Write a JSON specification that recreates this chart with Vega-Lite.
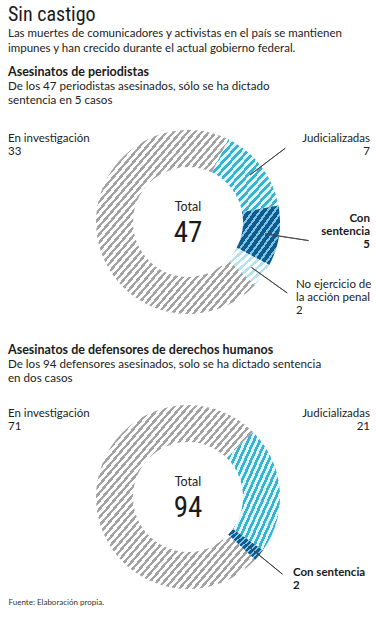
{
"$schema": "https://vega.github.io/schema/vega-lite/v6.json",
"background": "white",
"padding": {"left": 8, "top": 4, "right": 0, "bottom": 0},
"title": {
  "text": "Sin castigo",
  "subtitle": ["Las muertes de comunicadores y activistas en el país se mantienen", "impunes y han crecido durante el actual gobierno federal."],
  "anchor": "start", "frame": "group",
  "font": "Roboto Condensed, Noto Sans Condensed, DejaVu Sans Condensed, Liberation Sans Narrow, Roboto", "fontSize": 20, "fontWeight": "normal", "color": "#1a1a1a",
  "subtitleFont": "Lato", "subtitleFontSize": 11.5, "subtitleColor": "#222", "subtitleLineHeight": 15, "subtitlePadding": 3,
  "offset": 12
},
"spacing": 16,
"vconcat": [
{
  "width": 360, "height": 212,
  "title": {"text": "Asesinatos de periodistas", "subtitle": ["De los 47 periodistas asesinados, sólo se ha dictado", "sentencia en 5 casos"], "anchor": "start", "font": "Lato", "fontSize": 12.5, "fontWeight": "bold", "color": "#1a1a1a", "subtitleFont": "Lato", "subtitleFontSize": 11.6, "subtitleColor": "#222", "subtitleLineHeight": 14.5, "subtitlePadding": 2, "offset": 9},
  "data": {"values": [
    {"cat": "Judicializadas", "n": 7, "order": 1, "label": "Judicializadas\n7"},
    {"cat": "Con sentencia", "n": 5, "order": 2, "label": "Con\nsentencia\n5"},
    {"cat": "No ejercicio de la acción penal", "n": 2, "order": 3, "label": "No ejercicio de\nla acción penal\n2"},
    {"cat": "En investigación", "n": 33, "order": 4, "label": "En investigación\n33"}
  ]},
  "layer": [
    {"mark": {"type": "arc", "innerRadius": 55, "outerRadius": 92, "style": "hgray"},
     "encoding": {"theta": {"field": "n", "type": "quantitative", "stack": true, "scale": {"domain": [0, 47], "range": [0.45379, 6.73698]}}, "order": {"field": "order", "type": "quantitative"},
       "opacity": {"condition": {"test": "datum.cat === 'En investigación'", "value": 1}, "value": 0}}},
    {"mark": {"type": "arc", "innerRadius": 55, "outerRadius": 92, "style": "hcyan"},
     "encoding": {"theta": {"field": "n", "type": "quantitative", "stack": true, "scale": {"domain": [0, 47], "range": [0.45379, 6.73698]}}, "order": {"field": "order", "type": "quantitative"},
       "opacity": {"condition": {"test": "datum.cat === 'Judicializadas'", "value": 1}, "value": 0}}},
    {"mark": {"type": "arc", "innerRadius": 55, "outerRadius": 92, "style": "hdark"},
     "encoding": {"theta": {"field": "n", "type": "quantitative", "stack": true, "scale": {"domain": [0, 47], "range": [0.45379, 6.73698]}}, "order": {"field": "order", "type": "quantitative"},
       "opacity": {"condition": {"test": "datum.cat === 'Con sentencia'", "value": 1}, "value": 0}}},
    {"mark": {"type": "arc", "innerRadius": 55, "outerRadius": 92, "style": "hlight"},
     "encoding": {"theta": {"field": "n", "type": "quantitative", "stack": true, "scale": {"domain": [0, 47], "range": [0.45379, 6.73698]}}, "order": {"field": "order", "type": "quantitative"},
       "opacity": {"condition": {"test": "datum.cat === 'No ejercicio de la acción penal'", "value": 1}, "value": 0}}},
    {"mark": {"type": "arc", "innerRadius": 78, "outerRadius": 122, "padAngle": 3, "filled": false, "color": "#444", "strokeWidth": 0.9},
     "encoding": {"theta": {"field": "n", "type": "quantitative", "stack": true, "scale": {"domain": [0, 47], "range": [0.45379, 6.73698]}}, "order": {"field": "order", "type": "quantitative"},
       "opacity": {"condition": {"test": "datum.cat !== 'En investigación'", "value": 1}, "value": 0}}},
    {"transform": [{"aggregate": [{"op": "sum", "field": "n", "as": "total"}]}],
     "mark": {"type": "text", "text": "Total", "font": "Lato", "fontSize": 12.5, "color": "#222", "baseline": "alphabetic", "dy": -11},
     "encoding": {}},
    {"transform": [{"aggregate": [{"op": "sum", "field": "n", "as": "total"}]}],
     "mark": {"type": "text", "font": "Roboto Condensed, Noto Sans Condensed, DejaVu Sans Condensed, Liberation Sans Narrow, Roboto", "fontSize": 29, "color": "#1a1a1a", "baseline": "alphabetic", "dy": 20},
     "encoding": {"text": {"field": "total", "type": "quantitative"}}},
    {"mark": {"type": "text", "font": "Lato", "fontSize": 11.5, "color": "#222", "lineBreak": "\n", "lineHeight": 13, "align": "left", "baseline": "middle"},
     "encoding": {"theta": {"field": "n", "type": "quantitative", "stack": true, "bandPosition": 0.639, "scale": {"domain": [0, 47], "range": [0.45379, 6.73698]}}, "order": {"field": "order", "type": "quantitative"},
       "radius": {"value": {"expr": "datum.cat === 'En investigación' ? 198.2 : 0"}},
       "text": {"condition": {"test": "datum.cat === 'En investigación'", "field": "label", "type": "nominal"}, "value": ""}}},
    {"mark": {"type": "text", "font": "Lato", "fontSize": 11.5, "color": "#222", "lineBreak": "\n", "lineHeight": 13, "align": "right", "baseline": "middle"},
     "encoding": {"theta": {"field": "n", "type": "quantitative", "stack": true, "bandPosition": 0.737, "scale": {"domain": [0, 47], "range": [0.45379, 6.73698]}}, "order": {"field": "order", "type": "quantitative"},
       "radius": {"value": {"expr": "datum.cat === 'Judicializadas' ? 200 : 0"}},
       "text": {"condition": {"test": "datum.cat === 'Judicializadas'", "field": "label", "type": "nominal"}, "value": ""}}},
    {"mark": {"type": "text", "font": "Lato", "fontSize": 11.5, "fontWeight": "bold", "color": "#1a1a1a", "lineBreak": "\n", "lineHeight": 13, "align": "right", "baseline": "middle"},
     "encoding": {"theta": {"field": "n", "type": "quantitative", "stack": true, "bandPosition": 0.247, "scale": {"domain": [0, 47], "range": [0.45379, 6.73698]}}, "order": {"field": "order", "type": "quantitative"},
       "radius": {"value": {"expr": "datum.cat === 'Con sentencia' ? 182 : 0"}},
       "text": {"condition": {"test": "datum.cat === 'Con sentencia'", "field": "label", "type": "nominal"}, "value": ""}}},
    {"mark": {"type": "text", "font": "Lato", "fontSize": 11.5, "color": "#222", "lineBreak": "\n", "lineHeight": 13, "align": "left", "baseline": "middle"},
     "encoding": {"theta": {"field": "n", "type": "quantitative", "stack": true, "bandPosition": 0.154, "scale": {"domain": [0, 47], "range": [0.45379, 6.73698]}}, "order": {"field": "order", "type": "quantitative"},
       "radius": {"value": {"expr": "datum.cat === 'No ejercicio de la acción penal' ? 125 : 0"}},
       "text": {"condition": {"test": "datum.cat === 'No ejercicio de la acción penal'", "field": "label", "type": "nominal"}, "value": ""}}}
  ]
},
{
  "spacing": 3,
  "vconcat": [
  {
    "width": 360, "height": 196,
    "title": {"text": "Asesinatos de defensores de derechos humanos", "subtitle": ["De los 94 defensores asesinados, solo se ha dictado sentencia", "en dos casos"], "anchor": "start", "font": "Lato", "fontSize": 12.5, "fontWeight": "bold", "color": "#1a1a1a", "subtitleFont": "Lato", "subtitleFontSize": 11.6, "subtitleColor": "#222", "subtitleLineHeight": 14.5, "subtitlePadding": 2, "offset": 14},
    "data": {"values": [
      {"cat": "Judicializadas", "n": 21, "order": 1, "label": "Judicializadas\n21"},
      {"cat": "Con sentencia", "n": 2, "order": 2, "label": "Con sentencia\n2"},
      {"cat": "En investigación", "n": 71, "order": 3, "label": "En investigación\n71"}
    ]},
    "layer": [
      {"mark": {"type": "arc", "innerRadius": 55, "outerRadius": 92, "style": "hgray"},
       "encoding": {"theta": {"field": "n", "type": "quantitative", "stack": true, "scale": {"domain": [0, 94], "range": [0.785398, 7.068583]}}, "order": {"field": "order", "type": "quantitative"},
         "opacity": {"condition": {"test": "datum.cat === 'En investigación'", "value": 1}, "value": 0}}},
      {"mark": {"type": "arc", "innerRadius": 55, "outerRadius": 92, "style": "hcyan"},
       "encoding": {"theta": {"field": "n", "type": "quantitative", "stack": true, "scale": {"domain": [0, 94], "range": [0.785398, 7.068583]}}, "order": {"field": "order", "type": "quantitative"},
         "opacity": {"condition": {"test": "datum.cat === 'Judicializadas'", "value": 1}, "value": 0}}},
      {"mark": {"type": "arc", "innerRadius": 55, "outerRadius": 92, "style": "hdark"},
       "encoding": {"theta": {"field": "n", "type": "quantitative", "stack": true, "scale": {"domain": [0, 94], "range": [0.785398, 7.068583]}}, "order": {"field": "order", "type": "quantitative"},
         "opacity": {"condition": {"test": "datum.cat === 'Con sentencia'", "value": 1}, "value": 0}}},
      {"mark": {"type": "arc", "innerRadius": 78, "outerRadius": 122, "padAngle": 3, "filled": false, "color": "#444", "strokeWidth": 0.9},
       "encoding": {"theta": {"field": "n", "type": "quantitative", "stack": true, "scale": {"domain": [0, 94], "range": [0.785398, 7.068583]}}, "order": {"field": "order", "type": "quantitative"},
         "opacity": {"condition": {"test": "datum.cat === 'Con sentencia'", "value": 1}, "value": 0}}},
      {"transform": [{"aggregate": [{"op": "sum", "field": "n", "as": "total"}]}],
       "mark": {"type": "text", "text": "Total", "font": "Lato", "fontSize": 12.5, "color": "#222", "baseline": "alphabetic", "dy": -11},
       "encoding": {}},
      {"transform": [{"aggregate": [{"op": "sum", "field": "n", "as": "total"}]}],
       "mark": {"type": "text", "font": "Roboto Condensed, Noto Sans Condensed, DejaVu Sans Condensed, Liberation Sans Narrow, Roboto", "fontSize": 29, "color": "#1a1a1a", "baseline": "alphabetic", "dy": 20},
       "encoding": {"text": {"field": "total", "type": "quantitative"}}},
      {"mark": {"type": "text", "font": "Lato", "fontSize": 11.5, "color": "#222", "lineBreak": "\n", "lineHeight": 13, "align": "left", "baseline": "middle"},
       "encoding": {"theta": {"field": "n", "type": "quantitative", "stack": true, "bandPosition": 0.5946, "scale": {"domain": [0, 94], "range": [0.785398, 7.068583]}}, "order": {"field": "order", "type": "quantitative"},
         "radius": {"value": {"expr": "datum.cat === 'En investigación' ? 198.2 : 0"}},
         "text": {"condition": {"test": "datum.cat === 'En investigación'", "field": "label", "type": "nominal"}, "value": ""}}},
      {"mark": {"type": "text", "font": "Lato", "fontSize": 11.5, "color": "#222", "lineBreak": "\n", "lineHeight": 13, "align": "right", "baseline": "middle"},
       "encoding": {"theta": {"field": "n", "type": "quantitative", "stack": true, "bandPosition": 0.2548, "scale": {"domain": [0, 94], "range": [0.785398, 7.068583]}}, "order": {"field": "order", "type": "quantitative"},
         "radius": {"value": {"expr": "datum.cat === 'Judicializadas' ? 200 : 0"}},
         "text": {"condition": {"test": "datum.cat === 'Judicializadas'", "field": "label", "type": "nominal"}, "value": ""}}},
      {"mark": {"type": "text", "font": "Lato", "fontSize": 11.5, "fontWeight": "bold", "color": "#1a1a1a", "lineBreak": "\n", "lineHeight": 13, "align": "left", "baseline": "middle"},
       "encoding": {"theta": {"field": "n", "type": "quantitative", "stack": true, "bandPosition": 0.06, "scale": {"domain": [0, 94], "range": [0.785398, 7.068583]}}, "order": {"field": "order", "type": "quantitative"},
         "radius": {"value": {"expr": "datum.cat === 'Con sentencia' ? 129.6 : 0"}},
         "text": {"condition": {"test": "datum.cat === 'Con sentencia'", "field": "label", "type": "nominal"}, "value": ""}}}
    ]
  },
  {
    "width": 1, "height": 1,
    "data": {"values": [{"t": "Fuente: Elaboración propia."}]},
    "mark": {"type": "text", "align": "left", "baseline": "top", "font": "Lato", "fontSize": 8, "color": "#333"},
    "encoding": {"text": {"field": "t", "type": "nominal"}}
  }
  ]
}
],
"config": {
  "view": {"stroke": null},
  "font": "Lato",
  "style": {
    "hgray": {"color": {"gradient": "linear", "x1": 0, "y1": 0, "x2": 1, "y2": 1, "stops": [
{"offset":0,"color":"#a3a3a3"},{"offset":0.01,"color":"#a3a3a3"},{"offset":0.01,"color":"#fff"},{"offset":0.0222,"color":"#fff"},
{"offset":0.0222,"color":"#a3a3a3"},{"offset":0.0322,"color":"#a3a3a3"},{"offset":0.0322,"color":"#fff"},{"offset":0.0444,"color":"#fff"},
{"offset":0.0444,"color":"#a3a3a3"},{"offset":0.0544,"color":"#a3a3a3"},{"offset":0.0544,"color":"#fff"},{"offset":0.0667,"color":"#fff"},
{"offset":0.0667,"color":"#a3a3a3"},{"offset":0.0767,"color":"#a3a3a3"},{"offset":0.0767,"color":"#fff"},{"offset":0.0889,"color":"#fff"},
{"offset":0.0889,"color":"#a3a3a3"},{"offset":0.0989,"color":"#a3a3a3"},{"offset":0.0989,"color":"#fff"},{"offset":0.1111,"color":"#fff"},
{"offset":0.1111,"color":"#a3a3a3"},{"offset":0.1211,"color":"#a3a3a3"},{"offset":0.1211,"color":"#fff"},{"offset":0.1333,"color":"#fff"},
{"offset":0.1333,"color":"#a3a3a3"},{"offset":0.1433,"color":"#a3a3a3"},{"offset":0.1433,"color":"#fff"},{"offset":0.1556,"color":"#fff"},
{"offset":0.1556,"color":"#a3a3a3"},{"offset":0.1656,"color":"#a3a3a3"},{"offset":0.1656,"color":"#fff"},{"offset":0.1778,"color":"#fff"},
{"offset":0.1778,"color":"#a3a3a3"},{"offset":0.1878,"color":"#a3a3a3"},{"offset":0.1878,"color":"#fff"},{"offset":0.2,"color":"#fff"},
{"offset":0.2,"color":"#a3a3a3"},{"offset":0.21,"color":"#a3a3a3"},{"offset":0.21,"color":"#fff"},{"offset":0.2222,"color":"#fff"},
{"offset":0.2222,"color":"#a3a3a3"},{"offset":0.2322,"color":"#a3a3a3"},{"offset":0.2322,"color":"#fff"},{"offset":0.2444,"color":"#fff"},
{"offset":0.2444,"color":"#a3a3a3"},{"offset":0.2544,"color":"#a3a3a3"},{"offset":0.2544,"color":"#fff"},{"offset":0.2667,"color":"#fff"},
{"offset":0.2667,"color":"#a3a3a3"},{"offset":0.2767,"color":"#a3a3a3"},{"offset":0.2767,"color":"#fff"},{"offset":0.2889,"color":"#fff"},
{"offset":0.2889,"color":"#a3a3a3"},{"offset":0.2989,"color":"#a3a3a3"},{"offset":0.2989,"color":"#fff"},{"offset":0.3111,"color":"#fff"},
{"offset":0.3111,"color":"#a3a3a3"},{"offset":0.3211,"color":"#a3a3a3"},{"offset":0.3211,"color":"#fff"},{"offset":0.3333,"color":"#fff"},
{"offset":0.3333,"color":"#a3a3a3"},{"offset":0.3433,"color":"#a3a3a3"},{"offset":0.3433,"color":"#fff"},{"offset":0.3556,"color":"#fff"},
{"offset":0.3556,"color":"#a3a3a3"},{"offset":0.3656,"color":"#a3a3a3"},{"offset":0.3656,"color":"#fff"},{"offset":0.3778,"color":"#fff"},
{"offset":0.3778,"color":"#a3a3a3"},{"offset":0.3878,"color":"#a3a3a3"},{"offset":0.3878,"color":"#fff"},{"offset":0.4,"color":"#fff"},
{"offset":0.4,"color":"#a3a3a3"},{"offset":0.41,"color":"#a3a3a3"},{"offset":0.41,"color":"#fff"},{"offset":0.4222,"color":"#fff"},
{"offset":0.4222,"color":"#a3a3a3"},{"offset":0.4322,"color":"#a3a3a3"},{"offset":0.4322,"color":"#fff"},{"offset":0.4444,"color":"#fff"},
{"offset":0.4444,"color":"#a3a3a3"},{"offset":0.4544,"color":"#a3a3a3"},{"offset":0.4544,"color":"#fff"},{"offset":0.4667,"color":"#fff"},
{"offset":0.4667,"color":"#a3a3a3"},{"offset":0.4767,"color":"#a3a3a3"},{"offset":0.4767,"color":"#fff"},{"offset":0.4889,"color":"#fff"},
{"offset":0.4889,"color":"#a3a3a3"},{"offset":0.4989,"color":"#a3a3a3"},{"offset":0.4989,"color":"#fff"},{"offset":0.5111,"color":"#fff"},
{"offset":0.5111,"color":"#a3a3a3"},{"offset":0.5211,"color":"#a3a3a3"},{"offset":0.5211,"color":"#fff"},{"offset":0.5333,"color":"#fff"},
{"offset":0.5333,"color":"#a3a3a3"},{"offset":0.5433,"color":"#a3a3a3"},{"offset":0.5433,"color":"#fff"},{"offset":0.5556,"color":"#fff"},
{"offset":0.5556,"color":"#a3a3a3"},{"offset":0.5656,"color":"#a3a3a3"},{"offset":0.5656,"color":"#fff"},{"offset":0.5778,"color":"#fff"},
{"offset":0.5778,"color":"#a3a3a3"},{"offset":0.5878,"color":"#a3a3a3"},{"offset":0.5878,"color":"#fff"},{"offset":0.6,"color":"#fff"},
{"offset":0.6,"color":"#a3a3a3"},{"offset":0.61,"color":"#a3a3a3"},{"offset":0.61,"color":"#fff"},{"offset":0.6222,"color":"#fff"},
{"offset":0.6222,"color":"#a3a3a3"},{"offset":0.6322,"color":"#a3a3a3"},{"offset":0.6322,"color":"#fff"},{"offset":0.6444,"color":"#fff"},
{"offset":0.6444,"color":"#a3a3a3"},{"offset":0.6544,"color":"#a3a3a3"},{"offset":0.6544,"color":"#fff"},{"offset":0.6667,"color":"#fff"},
{"offset":0.6667,"color":"#a3a3a3"},{"offset":0.6767,"color":"#a3a3a3"},{"offset":0.6767,"color":"#fff"},{"offset":0.6889,"color":"#fff"},
{"offset":0.6889,"color":"#a3a3a3"},{"offset":0.6989,"color":"#a3a3a3"},{"offset":0.6989,"color":"#fff"},{"offset":0.7111,"color":"#fff"},
{"offset":0.7111,"color":"#a3a3a3"},{"offset":0.7211,"color":"#a3a3a3"},{"offset":0.7211,"color":"#fff"},{"offset":0.7333,"color":"#fff"},
{"offset":0.7333,"color":"#a3a3a3"},{"offset":0.7433,"color":"#a3a3a3"},{"offset":0.7433,"color":"#fff"},{"offset":0.7556,"color":"#fff"},
{"offset":0.7556,"color":"#a3a3a3"},{"offset":0.7656,"color":"#a3a3a3"},{"offset":0.7656,"color":"#fff"},{"offset":0.7778,"color":"#fff"},
{"offset":0.7778,"color":"#a3a3a3"},{"offset":0.7878,"color":"#a3a3a3"},{"offset":0.7878,"color":"#fff"},{"offset":0.8,"color":"#fff"},
{"offset":0.8,"color":"#a3a3a3"},{"offset":0.81,"color":"#a3a3a3"},{"offset":0.81,"color":"#fff"},{"offset":0.8222,"color":"#fff"},
{"offset":0.8222,"color":"#a3a3a3"},{"offset":0.8322,"color":"#a3a3a3"},{"offset":0.8322,"color":"#fff"},{"offset":0.8444,"color":"#fff"},
{"offset":0.8444,"color":"#a3a3a3"},{"offset":0.8544,"color":"#a3a3a3"},{"offset":0.8544,"color":"#fff"},{"offset":0.8667,"color":"#fff"},
{"offset":0.8667,"color":"#a3a3a3"},{"offset":0.8767,"color":"#a3a3a3"},{"offset":0.8767,"color":"#fff"},{"offset":0.8889,"color":"#fff"},
{"offset":0.8889,"color":"#a3a3a3"},{"offset":0.8989,"color":"#a3a3a3"},{"offset":0.8989,"color":"#fff"},{"offset":0.9111,"color":"#fff"},
{"offset":0.9111,"color":"#a3a3a3"},{"offset":0.9211,"color":"#a3a3a3"},{"offset":0.9211,"color":"#fff"},{"offset":0.9333,"color":"#fff"},
{"offset":0.9333,"color":"#a3a3a3"},{"offset":0.9433,"color":"#a3a3a3"},{"offset":0.9433,"color":"#fff"},{"offset":0.9556,"color":"#fff"},
{"offset":0.9556,"color":"#a3a3a3"},{"offset":0.9656,"color":"#a3a3a3"},{"offset":0.9656,"color":"#fff"},{"offset":0.9778,"color":"#fff"},
{"offset":0.9778,"color":"#a3a3a3"},{"offset":0.9878,"color":"#a3a3a3"},{"offset":0.9878,"color":"#fff"},{"offset":1,"color":"#fff"}
    ]}},
    "hcyan": {"color": {"gradient": "linear", "x1": 0, "y1": 0, "x2": 1, "y2": 1, "stops": [
{"offset":0,"color":"#35b5d1"},{"offset":0.0278,"color":"#35b5d1"},{"offset":0.0278,"color":"#e4f5f9"},{"offset":0.0556,"color":"#e4f5f9"},
{"offset":0.0556,"color":"#35b5d1"},{"offset":0.0833,"color":"#35b5d1"},{"offset":0.0833,"color":"#e4f5f9"},{"offset":0.1111,"color":"#e4f5f9"},
{"offset":0.1111,"color":"#35b5d1"},{"offset":0.1389,"color":"#35b5d1"},{"offset":0.1389,"color":"#e4f5f9"},{"offset":0.1667,"color":"#e4f5f9"},
{"offset":0.1667,"color":"#35b5d1"},{"offset":0.1944,"color":"#35b5d1"},{"offset":0.1944,"color":"#e4f5f9"},{"offset":0.2222,"color":"#e4f5f9"},
{"offset":0.2222,"color":"#35b5d1"},{"offset":0.25,"color":"#35b5d1"},{"offset":0.25,"color":"#e4f5f9"},{"offset":0.2778,"color":"#e4f5f9"},
{"offset":0.2778,"color":"#35b5d1"},{"offset":0.3056,"color":"#35b5d1"},{"offset":0.3056,"color":"#e4f5f9"},{"offset":0.3333,"color":"#e4f5f9"},
{"offset":0.3333,"color":"#35b5d1"},{"offset":0.3611,"color":"#35b5d1"},{"offset":0.3611,"color":"#e4f5f9"},{"offset":0.3889,"color":"#e4f5f9"},
{"offset":0.3889,"color":"#35b5d1"},{"offset":0.4167,"color":"#35b5d1"},{"offset":0.4167,"color":"#e4f5f9"},{"offset":0.4444,"color":"#e4f5f9"},
{"offset":0.4444,"color":"#35b5d1"},{"offset":0.4722,"color":"#35b5d1"},{"offset":0.4722,"color":"#e4f5f9"},{"offset":0.5,"color":"#e4f5f9"},
{"offset":0.5,"color":"#35b5d1"},{"offset":0.5278,"color":"#35b5d1"},{"offset":0.5278,"color":"#e4f5f9"},{"offset":0.5556,"color":"#e4f5f9"},
{"offset":0.5556,"color":"#35b5d1"},{"offset":0.5833,"color":"#35b5d1"},{"offset":0.5833,"color":"#e4f5f9"},{"offset":0.6111,"color":"#e4f5f9"},
{"offset":0.6111,"color":"#35b5d1"},{"offset":0.6389,"color":"#35b5d1"},{"offset":0.6389,"color":"#e4f5f9"},{"offset":0.6667,"color":"#e4f5f9"},
{"offset":0.6667,"color":"#35b5d1"},{"offset":0.6944,"color":"#35b5d1"},{"offset":0.6944,"color":"#e4f5f9"},{"offset":0.7222,"color":"#e4f5f9"},
{"offset":0.7222,"color":"#35b5d1"},{"offset":0.75,"color":"#35b5d1"},{"offset":0.75,"color":"#e4f5f9"},{"offset":0.7778,"color":"#e4f5f9"},
{"offset":0.7778,"color":"#35b5d1"},{"offset":0.8056,"color":"#35b5d1"},{"offset":0.8056,"color":"#e4f5f9"},{"offset":0.8333,"color":"#e4f5f9"},
{"offset":0.8333,"color":"#35b5d1"},{"offset":0.8611,"color":"#35b5d1"},{"offset":0.8611,"color":"#e4f5f9"},{"offset":0.8889,"color":"#e4f5f9"},
{"offset":0.8889,"color":"#35b5d1"},{"offset":0.9167,"color":"#35b5d1"},{"offset":0.9167,"color":"#e4f5f9"},{"offset":0.9444,"color":"#e4f5f9"},
{"offset":0.9444,"color":"#35b5d1"},{"offset":0.9722,"color":"#35b5d1"},{"offset":0.9722,"color":"#e4f5f9"},{"offset":1,"color":"#e4f5f9"}
    ]}},
    "hdark": {"color": {"gradient": "linear", "x1": 0, "y1": 0, "x2": 1, "y2": 1, "stops": [
{"offset":0,"color":"#0d5b8f"},{"offset":0.0542,"color":"#0d5b8f"},{"offset":0.0542,"color":"#7fc2e2"},{"offset":0.0833,"color":"#7fc2e2"},
{"offset":0.0833,"color":"#0d5b8f"},{"offset":0.1375,"color":"#0d5b8f"},{"offset":0.1375,"color":"#7fc2e2"},{"offset":0.1667,"color":"#7fc2e2"},
{"offset":0.1667,"color":"#0d5b8f"},{"offset":0.2208,"color":"#0d5b8f"},{"offset":0.2208,"color":"#7fc2e2"},{"offset":0.25,"color":"#7fc2e2"},
{"offset":0.25,"color":"#0d5b8f"},{"offset":0.3042,"color":"#0d5b8f"},{"offset":0.3042,"color":"#7fc2e2"},{"offset":0.3333,"color":"#7fc2e2"},
{"offset":0.3333,"color":"#0d5b8f"},{"offset":0.3875,"color":"#0d5b8f"},{"offset":0.3875,"color":"#7fc2e2"},{"offset":0.4167,"color":"#7fc2e2"},
{"offset":0.4167,"color":"#0d5b8f"},{"offset":0.4708,"color":"#0d5b8f"},{"offset":0.4708,"color":"#7fc2e2"},{"offset":0.5,"color":"#7fc2e2"},
{"offset":0.5,"color":"#0d5b8f"},{"offset":0.5542,"color":"#0d5b8f"},{"offset":0.5542,"color":"#7fc2e2"},{"offset":0.5833,"color":"#7fc2e2"},
{"offset":0.5833,"color":"#0d5b8f"},{"offset":0.6375,"color":"#0d5b8f"},{"offset":0.6375,"color":"#7fc2e2"},{"offset":0.6667,"color":"#7fc2e2"},
{"offset":0.6667,"color":"#0d5b8f"},{"offset":0.7208,"color":"#0d5b8f"},{"offset":0.7208,"color":"#7fc2e2"},{"offset":0.75,"color":"#7fc2e2"},
{"offset":0.75,"color":"#0d5b8f"},{"offset":0.8042,"color":"#0d5b8f"},{"offset":0.8042,"color":"#7fc2e2"},{"offset":0.8333,"color":"#7fc2e2"},
{"offset":0.8333,"color":"#0d5b8f"},{"offset":0.8875,"color":"#0d5b8f"},{"offset":0.8875,"color":"#7fc2e2"},{"offset":0.9167,"color":"#7fc2e2"},
{"offset":0.9167,"color":"#0d5b8f"},{"offset":0.9708,"color":"#0d5b8f"},{"offset":0.9708,"color":"#7fc2e2"},{"offset":1,"color":"#7fc2e2"}
    ]}},
    "hlight": {"color": {"gradient": "linear", "x1": 0, "y1": 0, "x2": 1, "y2": 1, "stops": [
{"offset":0,"color":"#b5e2ef"},{"offset":0.045,"color":"#b5e2ef"},{"offset":0.045,"color":"#fff"},{"offset":0.1,"color":"#fff"},
{"offset":0.1,"color":"#b5e2ef"},{"offset":0.145,"color":"#b5e2ef"},{"offset":0.145,"color":"#fff"},{"offset":0.2,"color":"#fff"},
{"offset":0.2,"color":"#b5e2ef"},{"offset":0.245,"color":"#b5e2ef"},{"offset":0.245,"color":"#fff"},{"offset":0.3,"color":"#fff"},
{"offset":0.3,"color":"#b5e2ef"},{"offset":0.345,"color":"#b5e2ef"},{"offset":0.345,"color":"#fff"},{"offset":0.4,"color":"#fff"},
{"offset":0.4,"color":"#b5e2ef"},{"offset":0.445,"color":"#b5e2ef"},{"offset":0.445,"color":"#fff"},{"offset":0.5,"color":"#fff"},
{"offset":0.5,"color":"#b5e2ef"},{"offset":0.545,"color":"#b5e2ef"},{"offset":0.545,"color":"#fff"},{"offset":0.6,"color":"#fff"},
{"offset":0.6,"color":"#b5e2ef"},{"offset":0.645,"color":"#b5e2ef"},{"offset":0.645,"color":"#fff"},{"offset":0.7,"color":"#fff"},
{"offset":0.7,"color":"#b5e2ef"},{"offset":0.745,"color":"#b5e2ef"},{"offset":0.745,"color":"#fff"},{"offset":0.8,"color":"#fff"},
{"offset":0.8,"color":"#b5e2ef"},{"offset":0.845,"color":"#b5e2ef"},{"offset":0.845,"color":"#fff"},{"offset":0.9,"color":"#fff"},
{"offset":0.9,"color":"#b5e2ef"},{"offset":0.945,"color":"#b5e2ef"},{"offset":0.945,"color":"#fff"},{"offset":1,"color":"#fff"}
    ]}}
  }
}
}
